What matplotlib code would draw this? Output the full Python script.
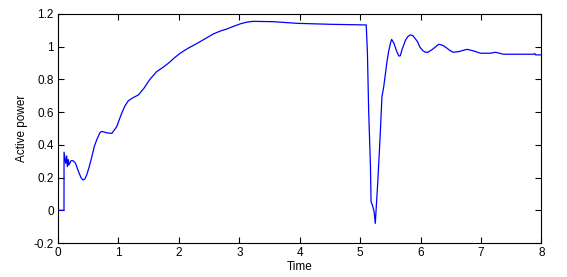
import numpy as np
import matplotlib.pyplot as plt

plt.rcParams['font.family'] = ['Liberation Sans', 'DejaVu Sans']

# Active power trace
t = [0.0, 0.099, 0.10, 0.127, 0.144, 0.155, 0.17, 0.18, 0.215, 0.25, 0.29, 0.34,
     0.38, 0.414, 0.445, 0.475, 0.51, 0.546, 0.60, 0.64, 0.695, 0.72, 0.75, 0.80,
     0.89, 0.97, 1.05, 1.11, 1.165, 1.25, 1.33, 1.42, 1.52, 1.63, 1.73, 1.83, 1.92,
     2.02, 2.15, 2.30, 2.44, 2.57, 2.68, 2.79, 2.90, 3.01, 3.12, 3.23, 3.56, 3.95,
     4.50, 5.10, 5.12, 5.14, 5.17, 5.18, 5.21, 5.23, 5.25, 5.265, 5.29, 5.33, 5.36,
     5.39, 5.44, 5.47, 5.50, 5.52, 5.56, 5.60, 5.64, 5.665, 5.69, 5.72, 5.75, 5.79,
     5.83, 5.87, 5.91, 5.95, 5.99, 6.04, 6.08, 6.12, 6.20, 6.30, 6.37, 6.44, 6.48,
     6.54, 6.63, 6.77, 6.88, 6.99, 7.15, 7.24, 7.37, 7.87, 7.89, 7.90, 8.0]
p = [0.0, 0.0, 0.355, 0.287, 0.332, 0.267, 0.31, 0.277, 0.303, 0.303, 0.287, 0.236,
     0.20, 0.185, 0.192, 0.216, 0.258, 0.307, 0.389, 0.43, 0.475, 0.482, 0.48, 0.474,
     0.47, 0.51, 0.59, 0.64, 0.67, 0.69, 0.705, 0.745, 0.80, 0.847, 0.872, 0.90, 0.93,
     0.96, 0.99, 1.02, 1.05, 1.078, 1.095, 1.108, 1.124, 1.139, 1.15, 1.155, 1.153, 1.143,
     1.137, 1.133, 0.96, 0.613, 0.267, 0.053, 0.022, -0.008, -0.08, 0.014, 0.165, 0.45, 0.694,
     0.756, 0.90, 0.97, 1.02, 1.045, 1.02, 0.975, 0.943, 0.945, 0.98, 1.01, 1.04, 1.063,
     1.072, 1.068, 1.05, 1.03, 0.996, 0.975, 0.966, 0.966, 0.985, 1.015, 1.008, 0.99, 0.978,
     0.966, 0.97, 0.984, 0.974, 0.96, 0.96, 0.966, 0.954, 0.954, 0.958, 0.95, 0.95]

xticks = [0, 1, 2, 3, 4, 5, 6, 7, 8]
yticks = [-0.2, 0, 0.2, 0.4, 0.6, 0.8, 1, 1.2]
yticklabels = ['-0.2', '0', '0.2', '0.4', '0.6', '0.8', '1', '1.2']

fig = plt.figure(figsize=(5.67, 2.77), dpi=100)
ax = fig.add_axes([0.1023, 0.1227, 0.8527, 0.8268])
ax.plot(t, p, color='#0000ff', linewidth=0.9)

ax.set_xlim(0, 8)
ax.set_ylim(-0.2, 1.2)
ax.set_xticks(xticks)
ax.set_yticks(yticks)
ax.set_yticklabels(yticklabels)
ax.tick_params(direction='in', top=True, right=True, length=4, width=0.8,
               labelsize=8.5, pad=3)
for s in ax.spines.values():
    s.set_linewidth(0.8)
ax.set_xlabel('Time', fontsize=8.5, labelpad=1)
ax.set_ylabel('Active power', fontsize=8.5, labelpad=4)

fig.savefig('out.png', dpi=100)
